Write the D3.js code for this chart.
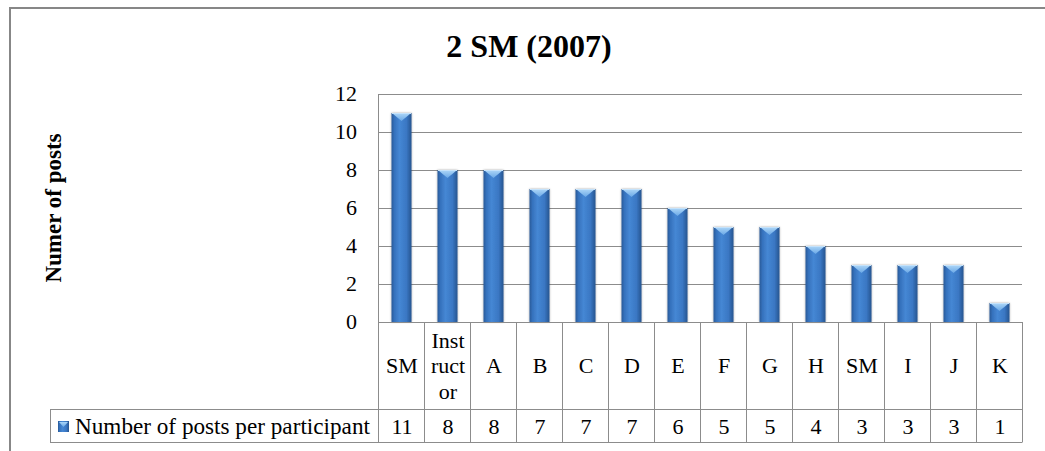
<!DOCTYPE html>
<html>
<head>
<script src="https://cdn.jsdelivr.net/npm/d3@7/dist/d3.min.js"></script>
<style>
  body { margin: 0; background: #fff; }
  svg { display: block; }
</style>
</head>
<body>
<svg width="1045" height="451"></svg>
<script>
const categories = ["SM", "Instructor", "A", "B", "C", "D", "E", "F", "G", "H", "SM", "I", "J", "K"];
const values = [11, 8, 8, 7, 7, 7, 6, 5, 5, 4, 3, 3, 3, 1];
const yTicks = [0, 2, 4, 6, 8, 10, 12];
const seriesName = "Number of posts per participant";
const chartTitle = "2 SM (2007)";
const yTitle = "Numer of posts";

const FONT = "'Liberation Serif', 'Times New Roman', 'DejaVu Serif', serif";

const svg = d3.select("svg")
  .attr("font-family", FONT)
  .style("font-family", FONT);

const plot = { left: 378, right: 1022, top: 94, bottom: 322 };
const catRowBottom = 409;
const tableBottom = 442;
const legendLeft = 50;

const x = d3.scaleBand()
  .domain(d3.range(categories.length))
  .range([plot.left, plot.right])
  .padding(0);

const y = d3.scaleLinear()
  .domain([0, 12])
  .range([plot.bottom, plot.top]);

// gradients
const defs = svg.append("defs");
const g1 = defs.append("linearGradient").attr("id", "barGrad")
  .attr("x1", "0").attr("x2", "1").attr("y1", "0").attr("y2", "0");
[["0%", "#285a98"], ["15%", "#3672bd"], ["40%", "#4587d4"], ["75%", "#3a77c3"], ["100%", "#27548f"]]
  .forEach(s => g1.append("stop").attr("offset", s[0]).attr("stop-color", s[1]));
const g2 = defs.append("linearGradient").attr("id", "capGrad")
  .attr("x1", "0").attr("x2", "0").attr("y1", "0").attr("y2", "1");
[["0%", "#a9d4f7"], ["100%", "#6aa8e6"]]
  .forEach(s => g2.append("stop").attr("offset", s[0]).attr("stop-color", s[1]));
const sh = defs.append("filter").attr("id", "shadow")
  .attr("x", "-30%").attr("y", "-10%").attr("width", "160%").attr("height", "120%");
sh.append("feDropShadow").attr("dx", 0).attr("dy", 0).attr("stdDeviation", 1)
  .attr("flood-color", "#000").attr("flood-opacity", 0.35);

// outer border
svg.append("rect")
  .attr("x", 10).attr("y", 8).attr("width", 1045).attr("height", 460)
  .attr("fill", "none").attr("stroke", "#878787").attr("stroke-width", 2);

function txt(sel) {
  return sel.append("text").attr("font-family", FONT).attr("fill", "#000");
}

// title
txt(svg)
  .attr("x", 529).attr("y", 57)
  .attr("text-anchor", "middle")
  .attr("font-size", 32).attr("font-weight", "bold")
  .text(chartTitle);

// y title
txt(svg)
  .attr("transform", "translate(61,208) rotate(-90)")
  .attr("text-anchor", "middle")
  .attr("font-size", 23).attr("font-weight", "bold")
  .text(yTitle);

// gridlines
svg.append("g").selectAll("line")
  .data(yTicks.filter(d => d > 0))
  .join("line")
  .attr("x1", plot.left).attr("x2", plot.right)
  .attr("y1", d => Math.round(y(d)) + 0.5).attr("y2", d => Math.round(y(d)) + 0.5)
  .attr("stroke", "#8c8c8c").attr("stroke-width", 1);

// y axis labels
svg.append("g").attr("font-family", FONT).selectAll("text")
  .data(yTicks)
  .join("text")
  .attr("x", 357).attr("y", d => y(d))
  .attr("dy", "0.34em")
  .attr("text-anchor", "end")
  .attr("font-size", 22)
  .text(d => d);

// left axis line
svg.append("line")
  .attr("x1", plot.left + 0.5).attr("x2", plot.left + 0.5)
  .attr("y1", plot.top).attr("y2", tableBottom + 0.5)
  .attr("stroke", "#8c8c8c");

// bars
const barW = 20;
const bars = svg.append("g").selectAll("g")
  .data(values)
  .join("g")
  .attr("filter", "url(#shadow)");

bars.append("rect")
  .attr("x", (d, i) => x(i) + x.bandwidth() / 2 - barW / 2 + 0.5)
  .attr("y", d => y(d))
  .attr("width", barW)
  .attr("height", d => y(0) - y(d))
  .attr("fill", "url(#barGrad)");

bars.append("path")
  .attr("d", (d, i) => {
    const x0 = x(i) + x.bandwidth() / 2 - barW / 2 + 0.5;
    const x1 = x0 + barW;
    const t = y(d);
    return `M${x0 + 1},${t + 0.5} L${x1 - 1},${t + 0.5} L${(x0 + x1) / 2},${t + 8} Z`;
  })
  .attr("fill", "url(#capGrad)");

bars.append("line")
  .attr("x1", (d, i) => x(i) + x.bandwidth() / 2 - barW / 2 + 1)
  .attr("x2", (d, i) => x(i) + x.bandwidth() / 2 + barW / 2)
  .attr("y1", d => y(d) + 0.5).attr("y2", d => y(d) + 0.5)
  .attr("stroke", "#c4e2fb").attr("stroke-width", 1);

// data table
const table = svg.append("g").attr("font-family", FONT);
const lc = "#8c8c8c";
table.append("line")
  .attr("x1", plot.left).attr("x2", plot.right)
  .attr("y1", plot.bottom + 0.5).attr("y2", plot.bottom + 0.5)
  .attr("stroke", lc);
[catRowBottom, tableBottom].forEach(yy => {
  table.append("line")
    .attr("x1", legendLeft).attr("x2", plot.right)
    .attr("y1", yy + 0.5).attr("y2", yy + 0.5)
    .attr("stroke", lc);
});
table.append("line")
  .attr("x1", legendLeft + 0.5).attr("x2", legendLeft + 0.5)
  .attr("y1", catRowBottom).attr("y2", tableBottom + 0.5)
  .attr("stroke", lc);
table.selectAll(".div")
  .data(d3.range(1, categories.length + 1))
  .join("line")
  .attr("class", "div")
  .attr("x1", i => Math.round(x(i - 1) + x.bandwidth()) + 0.5)
  .attr("x2", i => Math.round(x(i - 1) + x.bandwidth()) + 0.5)
  .attr("y1", plot.bottom).attr("y2", tableBottom + 0.5)
  .attr("stroke", lc);

// category labels, wrapped by character to fit the cell
const lineH = 25.5;
const maxW = 39;
const measure = txt(svg).attr("font-size", 22).attr("visibility", "hidden");
function wrap(s) {
  const lines = [];
  let cur = "";
  for (const ch of s) {
    measure.text(cur + ch);
    if (cur && measure.node().getComputedTextLength() > maxW) {
      lines.push(cur);
      cur = ch;
    } else cur += ch;
  }
  lines.push(cur);
  return lines;
}
categories.forEach((c, i) => {
  const lines = wrap(c);
  const first = 373 - (lines.length - 1) * lineH / 2;
  const t = txt(table)
    .attr("text-anchor", "middle")
    .attr("font-size", 22);
  lines.forEach((l, k) => {
    t.append("tspan")
      .attr("x", x(i) + x.bandwidth() / 2 + 1)
      .attr("y", first + k * lineH)
      .text(l);
  });
});
measure.remove();

// values row
table.selectAll(".val")
  .data(values)
  .join("text")
  .attr("class", "val")
  .attr("x", (d, i) => x(i) + x.bandwidth() / 2 + 1)
  .attr("y", 434)
  .attr("text-anchor", "middle")
  .attr("font-size", 22)
  .text(d => d);

// legend key + series name
table.append("rect")
  .attr("x", 58).attr("y", 421).attr("width", 11).attr("height", 11)
  .attr("fill", "url(#barGrad)");
table.append("path")
  .attr("d", "M59,422 L68,422 L63.5,427 Z")
  .attr("fill", "url(#capGrad)");
txt(table)
  .attr("x", 75).attr("y", 434)
  .attr("font-size", 23.2)
  .text(seriesName);
</script>
</body>
</html>
